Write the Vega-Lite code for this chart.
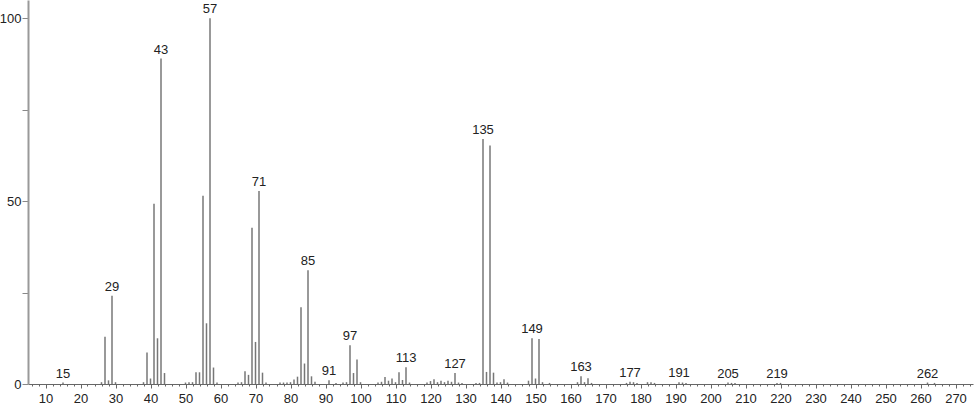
{
  "$schema": "https://vega.github.io/schema/vega-lite/v6.json",
  "width": 945,
  "height": 384,
  "autosize": {"type": "none"},
  "padding": {"left": 28, "top": 0, "right": 1, "bottom": 22},
  "background": "white",
  "config": {"view": {"stroke": null}, "font": "Liberation Sans"},
  "data": {"values": [
    {"mz": 15, "inten": 0.4, "label": "15"},
    {"mz": 26, "inten": 0.5, "label": ""},
    {"mz": 27, "inten": 12.9, "label": ""},
    {"mz": 28, "inten": 1.0, "label": ""},
    {"mz": 29, "inten": 24.1, "label": "29"},
    {"mz": 30, "inten": 0.5, "label": ""},
    {"mz": 38, "inten": 0.5, "label": ""},
    {"mz": 39, "inten": 8.6, "label": ""},
    {"mz": 40, "inten": 1.5, "label": ""},
    {"mz": 41, "inten": 49.3, "label": ""},
    {"mz": 42, "inten": 12.5, "label": ""},
    {"mz": 43, "inten": 89.0, "label": "43"},
    {"mz": 44, "inten": 3.0, "label": ""},
    {"mz": 50, "inten": 0.4, "label": ""},
    {"mz": 51, "inten": 0.5, "label": ""},
    {"mz": 52, "inten": 0.5, "label": ""},
    {"mz": 53, "inten": 3.2, "label": ""},
    {"mz": 54, "inten": 3.2, "label": ""},
    {"mz": 55, "inten": 51.5, "label": ""},
    {"mz": 56, "inten": 16.6, "label": ""},
    {"mz": 57, "inten": 100, "label": "57"},
    {"mz": 58, "inten": 4.5, "label": ""},
    {"mz": 59, "inten": 0.4, "label": ""},
    {"mz": 65, "inten": 0.4, "label": ""},
    {"mz": 66, "inten": 0.5, "label": ""},
    {"mz": 67, "inten": 3.5, "label": ""},
    {"mz": 68, "inten": 2.5, "label": ""},
    {"mz": 69, "inten": 42.7, "label": ""},
    {"mz": 70, "inten": 11.5, "label": ""},
    {"mz": 71, "inten": 52.8, "label": "71"},
    {"mz": 72, "inten": 3.1, "label": ""},
    {"mz": 73, "inten": 0.4, "label": ""},
    {"mz": 77, "inten": 0.4, "label": ""},
    {"mz": 78, "inten": 0.4, "label": ""},
    {"mz": 79, "inten": 0.4, "label": ""},
    {"mz": 80, "inten": 0.5, "label": ""},
    {"mz": 81, "inten": 1.2, "label": ""},
    {"mz": 82, "inten": 2.0, "label": ""},
    {"mz": 83, "inten": 21.0, "label": ""},
    {"mz": 84, "inten": 5.6, "label": ""},
    {"mz": 85, "inten": 31.1, "label": "85"},
    {"mz": 86, "inten": 2.1, "label": ""},
    {"mz": 87, "inten": 0.6, "label": ""},
    {"mz": 91, "inten": 1.0, "label": "91"},
    {"mz": 93, "inten": 0.3, "label": ""},
    {"mz": 95, "inten": 0.4, "label": ""},
    {"mz": 96, "inten": 0.5, "label": ""},
    {"mz": 97, "inten": 10.6, "label": "97"},
    {"mz": 98, "inten": 3.0, "label": ""},
    {"mz": 99, "inten": 6.7, "label": ""},
    {"mz": 100, "inten": 0.5, "label": ""},
    {"mz": 105, "inten": 0.4, "label": ""},
    {"mz": 106, "inten": 0.6, "label": ""},
    {"mz": 107, "inten": 1.9, "label": ""},
    {"mz": 108, "inten": 0.9, "label": ""},
    {"mz": 109, "inten": 1.5, "label": ""},
    {"mz": 110, "inten": 0.5, "label": ""},
    {"mz": 111, "inten": 3.2, "label": ""},
    {"mz": 112, "inten": 1.1, "label": ""},
    {"mz": 113, "inten": 4.6, "label": "113"},
    {"mz": 114, "inten": 0.4, "label": ""},
    {"mz": 119, "inten": 0.4, "label": ""},
    {"mz": 120, "inten": 0.8, "label": ""},
    {"mz": 121, "inten": 1.3, "label": ""},
    {"mz": 122, "inten": 0.5, "label": ""},
    {"mz": 123, "inten": 0.9, "label": ""},
    {"mz": 124, "inten": 0.5, "label": ""},
    {"mz": 125, "inten": 0.9, "label": ""},
    {"mz": 126, "inten": 0.6, "label": ""},
    {"mz": 127, "inten": 3.0, "label": "127"},
    {"mz": 128, "inten": 0.4, "label": ""},
    {"mz": 129, "inten": 0.3, "label": ""},
    {"mz": 133, "inten": 0.3, "label": ""},
    {"mz": 134, "inten": 0.3, "label": ""},
    {"mz": 135, "inten": 67.0, "label": "135"},
    {"mz": 136, "inten": 3.3, "label": ""},
    {"mz": 137, "inten": 65.2, "label": ""},
    {"mz": 138, "inten": 3.1, "label": ""},
    {"mz": 139, "inten": 0.4, "label": ""},
    {"mz": 140, "inten": 0.5, "label": ""},
    {"mz": 141, "inten": 1.3, "label": ""},
    {"mz": 142, "inten": 0.4, "label": ""},
    {"mz": 148, "inten": 0.9, "label": ""},
    {"mz": 149, "inten": 12.5, "label": "149"},
    {"mz": 150, "inten": 1.5, "label": ""},
    {"mz": 151, "inten": 12.3, "label": ""},
    {"mz": 152, "inten": 0.5, "label": ""},
    {"mz": 154, "inten": 0.3, "label": ""},
    {"mz": 162, "inten": 0.5, "label": ""},
    {"mz": 163, "inten": 2.1, "label": "163"},
    {"mz": 164, "inten": 0.5, "label": ""},
    {"mz": 165, "inten": 1.6, "label": ""},
    {"mz": 166, "inten": 0.3, "label": ""},
    {"mz": 176, "inten": 0.3, "label": ""},
    {"mz": 177, "inten": 0.6, "label": "177"},
    {"mz": 178, "inten": 0.5, "label": ""},
    {"mz": 179, "inten": 0.3, "label": ""},
    {"mz": 182, "inten": 0.5, "label": ""},
    {"mz": 183, "inten": 0.5, "label": ""},
    {"mz": 184, "inten": 0.3, "label": ""},
    {"mz": 191, "inten": 0.5, "label": "191"},
    {"mz": 192, "inten": 0.4, "label": ""},
    {"mz": 193, "inten": 0.3, "label": ""},
    {"mz": 205, "inten": 0.4, "label": "205"},
    {"mz": 206, "inten": 0.3, "label": ""},
    {"mz": 207, "inten": 0.3, "label": ""},
    {"mz": 219, "inten": 0.3, "label": "219"},
    {"mz": 220, "inten": 0.3, "label": ""},
    {"mz": 262, "inten": 0.4, "label": "262"},
    {"mz": 264, "inten": 0.3, "label": ""}
  ]},
  "encoding": {
    "x": {
      "field": "mz", "type": "quantitative",
      "scale": {"domain": [5, 275], "nice": false, "zero": false},
      "axis": {
        "title": null, "grid": false,
        "values": [6,8,10,12,14,16,18,20,22,24,26,28,30,32,34,36,38,40,42,44,46,48,50,52,54,56,58,60,62,64,66,68,70,72,74,76,78,80,82,84,86,88,90,92,94,96,98,100,102,104,106,108,110,112,114,116,118,120,122,124,126,128,130,132,134,136,138,140,142,144,146,148,150,152,154,156,158,160,162,164,166,168,170,172,174,176,178,180,182,184,186,188,190,192,194,196,198,200,202,204,206,208,210,212,214,216,218,220,222,224,226,228,230,232,234,236,238,240,242,244,246,248,250,252,254,256,258,260,262,264,266,268,270,272,274],
        "labelExpr": "datum.value % 10 === 0 ? datum.label : ''",
        "tickSize": {"condition": {"test": "datum.value % 10 === 0", "value": 4}, "value": 2},
        "labelPadding": 4,
        "labelFontSize": 13,
        "labelColor": "#222",
        "labelFont": "Liberation Sans",
        "labelOverlap": false,
        "labelFlush": false,
        "domainColor": "#666",
        "domainWidth": 1,
        "tickColor": "#666",
        "tickWidth": 1
      }
    },
    "y": {
      "field": "inten", "type": "quantitative",
      "scale": {"domain": [0, 105], "nice": false},
      "axis": {
        "title": null, "grid": false,
        "values": [0, 25, 50, 75, 100],
        "labelExpr": "datum.value % 50 === 0 ? datum.label : ''",
        "tickSize": 6,
        "labelPadding": 1,
        "labelFontSize": 13,
        "labelColor": "#222",
        "labelFont": "Liberation Sans",
        "labelFlush": false,
        "labelOverlap": false,
        "domainColor": "#999",
        "domainWidth": 2,
        "tickColor": "#888",
        "tickWidth": 1
      }
    }
  },
  "layer": [
    {
      "mark": {"type": "rule", "color": "#777", "strokeWidth": 1.5},
      "encoding": {"y2": {"datum": 0}}
    },
    {
      "transform": [{"filter": "datum.label != ''"}],
      "mark": {"type": "text", "baseline": "alphabetic", "align": "center", "dy": -5, "fontSize": 13, "color": "#222", "font": "Liberation Sans"},
      "encoding": {"text": {"field": "label"}}
    }
  ]
}
